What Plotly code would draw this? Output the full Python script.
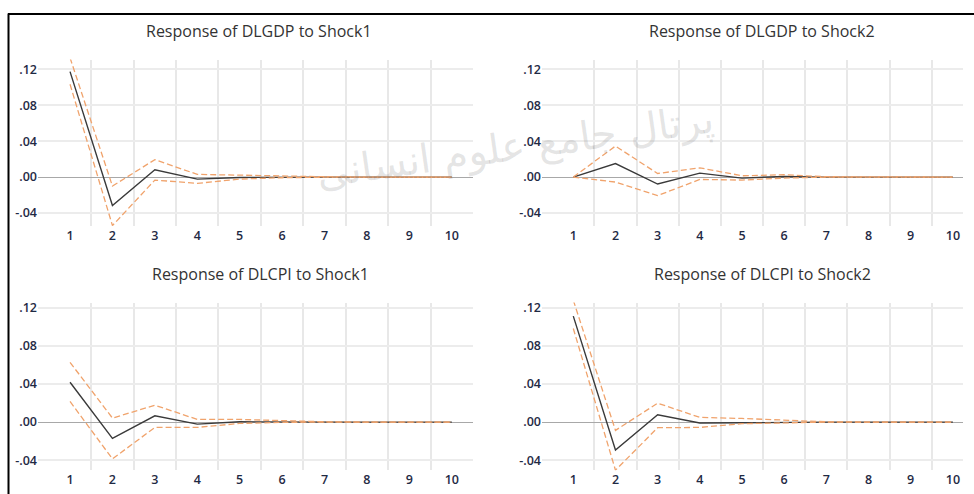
import plotly.graph_objects as go

# impulse responses, periods 1..10
periods = list(range(1, 11))

gdp_s1 = [0.1175, -0.0317, 0.0081, -0.0022, -0.0004, 0.0001, 0.0, 0.0, 0.0, 0.0]
gdp_s1_up = [0.133, -0.010, 0.0195, 0.003, 0.0022, 0.001, 0.0004, 0.0, 0.0, 0.0]
gdp_s1_lo = [0.1035, -0.054, -0.0033, -0.007, -0.0022, -0.0007, -0.0001, 0.0, 0.0, 0.0]

gdp_s2 = [0.0, 0.0151, -0.0077, 0.0044, -0.0011, 0.0007, 0.0, 0.0, 0.0, 0.0]
gdp_s2_up = [0.0, 0.0346, 0.004, 0.0103, 0.0015, 0.0026, 0.0004, 0.0, 0.0, 0.0]
gdp_s2_lo = [0.0, -0.0055, -0.0206, -0.0026, -0.0033, -0.0011, 0.0, 0.0, 0.0, 0.0]

cpi_s1 = [0.0417, -0.017, 0.0066, -0.0021, 0.0003, 0.0, 0.0, 0.0, 0.0, 0.0]
cpi_s1_up = [0.0626, 0.0042, 0.0177, 0.0028, 0.0028, 0.0014, 0.0003, 0.0, 0.0, 0.0]
cpi_s1_lo = [0.0216, -0.0386, -0.0056, -0.0056, -0.0014, -0.0003, 0.0, 0.0, 0.0, 0.0]

cpi_s2 = [0.111, -0.0292, 0.0077, -0.001, -0.0007, 0.0, 0.0, 0.0, 0.0, 0.0]
cpi_s2_up = [0.1277, -0.0087, 0.0198, 0.0049, 0.0038, 0.0017, 0.0003, 0.0, 0.0, 0.0]
cpi_s2_lo = [0.098, -0.0504, -0.0059, -0.0056, -0.0017, -0.0007, 0.0, 0.0, 0.0, 0.0]

titles = ["Response of DLGDP to Shock1", "Response of DLGDP to Shock2",
          "Response of DLCPI to Shock1", "Response of DLCPI to Shock2"]
y_ticks = [-0.04, 0.0, 0.04, 0.08, 0.12]
y_labels = ["-.04", ".00", ".04", ".08", ".12"]
watermark = "پرتال جامع علوم انسانی"

panels = [
    (gdp_s1, gdp_s1_up, gdp_s1_lo),
    (gdp_s2, gdp_s2_up, gdp_s2_lo),
    (cpi_s1, cpi_s1_up, cpi_s1_lo),
    (cpi_s2, cpi_s2_up, cpi_s2_lo),
]

W, H = 974, 494
# plot boxes in pixels: (left, right, top, bottom), x range, y range
boxes = [
    ((38, 473, 56, 224), [0.245, 10.5], [-0.0547, 0.131]),
    ((542, 963, 56, 224), [0.258, 10.24], [-0.0547, 0.131]),
    ((38, 473, 301, 470), [0.245, 10.5], [-0.0504, 0.1252]),
    ((542, 963, 301, 470), [0.258, 10.24], [-0.0504, 0.1252]),
]
title_pos = [(259, 27), (762, 27), (260, 272), (762, 272)]

ORANGE = "#f0a36c"
FONT = "Open Sans"
fig = go.Figure()

for i, ((resp, up, lo), (box, xr, yr)) in enumerate(zip(panels, boxes)):
    n = "" if i == 0 else str(i + 1)
    xa, ya = "x" + n, "y" + n
    fig.add_trace(go.Scatter(x=periods, y=resp, mode="lines", xaxis=xa, yaxis=ya,
                             line=dict(color="#3a3a3a", width=1.4), showlegend=False))
    for band in (up, lo):
        fig.add_trace(go.Scatter(x=periods, y=band, mode="lines", xaxis=xa, yaxis=ya,
                                 line=dict(color=ORANGE, width=1.3, dash="6px,3px"),
                                 showlegend=False, hoverinfo="skip"))
    l, r, t, b = box
    fig.layout["xaxis" + n] = dict(
        domain=[l / W, r / W], range=xr, anchor=ya,
        tickvals=periods, ticktext=[str(p) for p in periods],
        showgrid=False, zeroline=False, showline=False, ticks="",
        tickfont=dict(size=12.5, color="#1f2a44", family=FONT, weight=600),
        minor=dict(tickvals=[p + 0.5 for p in periods[:-1]], showgrid=True,
                   gridcolor="#e8e8e8", gridwidth=1.5),
    )
    fig.layout["yaxis" + n] = dict(
        domain=[1 - b / H, 1 - t / H], range=yr, anchor=xa,
        tickvals=y_ticks, ticktext=y_labels,
        showgrid=True, gridcolor="#ececec", gridwidth=2,
        zeroline=True, zerolinecolor="#a8a8a8", zerolinewidth=1,
        showline=False, ticks="",
        tickfont=dict(size=12.5, color="#1f2a44", family=FONT, weight=600),
    )
    tx, ty = title_pos[i]
    fig.add_annotation(text=titles[i], x=tx / W, y=1 - ty / H, xref="paper", yref="paper",
                       showarrow=False, xanchor="center", yanchor="middle",
                       font=dict(size=16, color="#333333", family=FONT))

# faint watermark over the top row
fig.add_annotation(text=watermark, x=515 / W, y=1 - 90 / H, xref="paper", yref="paper",
                   showarrow=False, textangle=-8,
                   font=dict(size=40, color="rgba(120,120,120,0.2)", family="DejaVu Sans"))

# screenshot frame lines
fig.add_shape(type="line", xref="paper", yref="paper", x0=8 / W, x1=1, y0=1 - 10 / H, y1=1 - 10 / H,
              line=dict(color="black", width=2))
fig.add_shape(type="line", xref="paper", yref="paper", x0=8.5 / W, x1=8.5 / W, y0=0, y1=1 - 9.5 / H,
              line=dict(color="black", width=2))

fig.update_layout(width=W, height=H, margin=dict(l=0, r=0, t=0, b=0),
                  paper_bgcolor="white", plot_bgcolor="white")
fig.write_html("out.html", config={"displayModeBar": False},
               post_script="document.body.style.margin='0';document.body.style.overflow='hidden';"
                           "var d=document.getElementById('{plot_id}');"
                           "d.style.position='absolute';d.style.top='0';d.style.left='0';")
